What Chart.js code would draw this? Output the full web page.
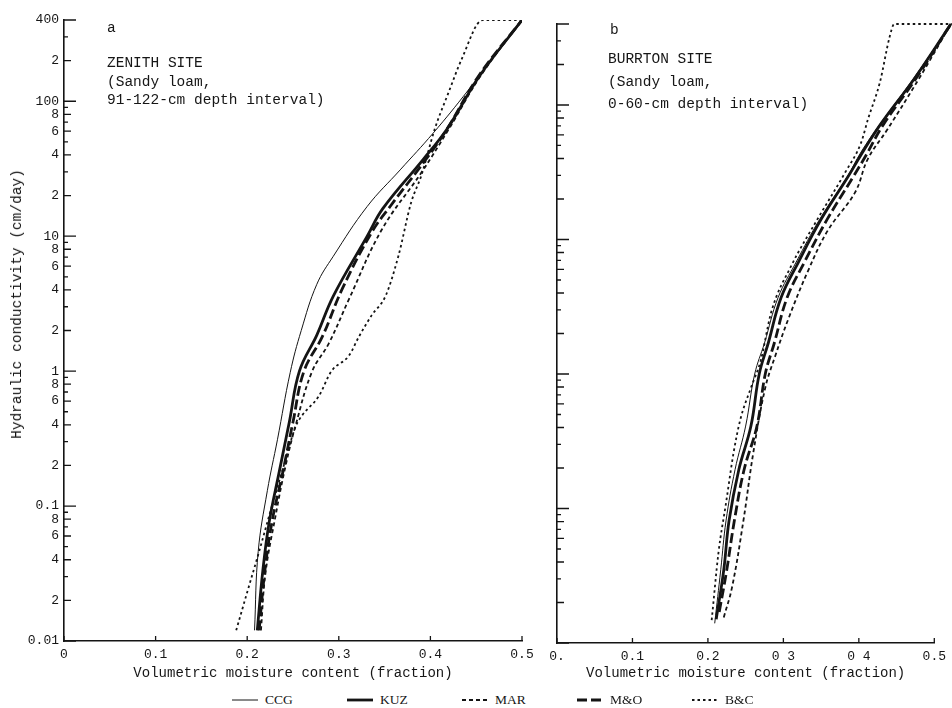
<!DOCTYPE html>
<html>
<head>
<meta charset="utf-8">
<script src="https://cdn.jsdelivr.net/npm/chart.js@4.4.0/dist/chart.umd.min.js"></script>
<style>
html,body{margin:0;padding:0;background:#fff;}
#wrap{position:relative;width:952px;height:708px;overflow:hidden;background:#fff;font-family:"Liberation Mono",monospace;color:#161616;}
#cA{position:absolute;left:0;top:0;}
#cB{position:absolute;left:540px;top:0;}
.note{position:absolute;font-size:14.5px;white-space:pre;}
#ytitle{position:absolute;left:17px;top:304px;transform:translate(-50%,-50%) rotate(-90deg);font-size:14.5px;white-space:nowrap;}
#legend{position:absolute;left:232px;top:692px;display:flex;height:16px;}
.li{width:115px;display:flex;align-items:center;font-family:"Liberation Serif",serif;font-size:13.5px;}
.li canvas{margin-right:7px;}
</style>
</head>
<body>
<div id="wrap">
  <canvas id="cA" width="545" height="690"></canvas>
  <canvas id="cB" width="412" height="690"></canvas>
  <div id="ytitle">Hydraulic conductivity (cm/day)</div>
  <div class="note" style="left:107px;top:19px;line-height:18px;">a</div>
  <div class="note" style="left:107px;top:54px;line-height:18.5px;">ZENITH SITE
(Sandy loam,
91-122-cm depth interval)</div>
  <div class="note" style="left:610px;top:21px;line-height:18px;">b</div>
  <div class="note" style="left:608px;top:48px;line-height:22.5px;">BURRTON SITE
(Sandy loam,
0-60-cm depth interval)</div>
  <div id="legend"></div>
</div>
<script>
// ---------- categories / series ----------
const seriesNames = ['CCG', 'KUZ', 'MAR', 'M&O', 'B&C'];

// ---------- tick values and labels ----------
const yTickValues = [0.01,0.02,0.03,0.04,0.05,0.06,0.07,0.08,0.09,
                     0.1,0.2,0.3,0.4,0.5,0.6,0.7,0.8,0.9,
                     1,2,3,4,5,6,7,8,9,
                     10,20,30,40,50,60,70,80,90,
                     100,200,300,400];
const yTickLabels = ['0.01','2','','4','','6','','8','',
                     '0.1','2','','4','','6','','8','',
                     '1','2','','4','','6','','8','',
                     '10','2','','4','','6','','8','',
                     '100','2','','400'];
const xTickValues = [0, 0.1, 0.2, 0.3, 0.4, 0.5];
const xTickLabelsA = ['0', '0.1', '0.2', '0.3', '0.4', '0.5'];
const xTickLabelsB = ['0.', '0.1', '0.2', '0 3', '0 4', '0.5'];
const xTitle = 'Volumetric moisture content (fraction)';

// ---------- panel a: Zenith site (theta, K cm/day) ----------
const zenithCCG_theta = [0.208,0.212,0.222,0.233,0.247,0.259,0.276,0.294,0.331,0.367,0.403,0.441,0.500];
const zenithCCG_K     = [0.012,0.046,0.13,0.31,0.98,2.0,4.4,7.1,16.6,31,58,120,400];

const zenithKUZ_theta = [0.211,0.217,0.224,0.235,0.246,0.257,0.276,0.294,0.331,0.348,0.392,0.418,0.454,0.500];
const zenithKUZ_K     = [0.012,0.033,0.076,0.18,0.42,1.0,1.85,3.6,10,16,37,62,155,400];

const zenithMAR_theta = [0.215,0.220,0.231,0.242,0.253,0.271,0.289,0.311,0.347,0.390,0.420,0.455,0.500];
const zenithMAR_K     = [0.012,0.032,0.085,0.20,0.40,1.0,1.6,3.4,11.2,29.5,62,155,400];

const zenithMO_theta  = [0.213,0.219,0.227,0.239,0.250,0.262,0.282,0.304,0.336,0.356,0.395,0.418,0.453,0.500];
const zenithMO_K      = [0.012,0.032,0.076,0.18,0.42,1.0,1.8,4.1,10.7,16.6,37,62,155,400];

const zenithBC_theta  = [0.188,0.200,0.213,0.227,0.238,0.253,0.260,0.278,0.292,0.311,0.322,0.336,0.351,0.365,0.379,0.390,0.405,0.420,0.434,0.457,0.500];
const zenithBC_K      = [0.012,0.023,0.046,0.10,0.18,0.39,0.47,0.65,1.0,1.3,1.8,2.6,3.6,7.1,17.8,28,63,117,204,400,400];

// ---------- panel b: Burrton site (theta, K cm/day) ----------
const burrtonCCG_theta = [0.209,0.217,0.224,0.236,0.250,0.262,0.275,0.293,0.317,0.348,0.385,0.403,0.428,0.474,0.522];
const burrtonCCG_K     = [0.014,0.035,0.081,0.195,0.41,1.0,1.7,3.7,6.8,14.1,29.5,44.7,72,162,400];

const burrtonKUZ_theta = [0.211,0.221,0.228,0.241,0.257,0.268,0.280,0.297,0.320,0.350,0.386,0.403,0.428,0.474,0.522];
const burrtonKUZ_K     = [0.015,0.035,0.081,0.195,0.41,1.0,1.7,3.7,6.8,14.1,29.5,42.7,70.8,158,400];

const burrtonMAR_theta = [0.221,0.232,0.247,0.260,0.276,0.289,0.307,0.333,0.359,0.395,0.412,0.438,0.480,0.522];
const burrtonMAR_K     = [0.0155,0.026,0.081,0.257,0.79,1.35,2.6,5.9,11.7,22.4,39.8,66,158,400];

const burrtonMO_theta  = [0.215,0.225,0.235,0.248,0.265,0.276,0.288,0.305,0.328,0.358,0.393,0.410,0.432,0.476,0.522];
const burrtonMO_K      = [0.017,0.035,0.081,0.195,0.41,1.0,1.7,3.7,6.8,14.1,29.5,42.7,70.8,158,400];

const burrtonBC_theta  = [0.205,0.214,0.224,0.234,0.243,0.257,0.270,0.284,0.310,0.345,0.382,0.403,0.412,0.428,0.441,0.447,0.530];
const burrtonBC_K      = [0.0148,0.047,0.11,0.26,0.46,0.79,1.26,2.9,6.3,14.1,31.6,52.5,78,148,324,400,400];

// ---------- styles (kept apart from data) ----------
const lineStyle = {
  'CCG': {width: 1.0, dash: [], smooth: 'spline'},
  'KUZ': {width: 2.8, dash: [], smooth: 'spline'},
  'MAR': {width: 1.8, dash: [4, 3], smooth: 'spline'},
  'M&O': {width: 2.8, dash: [10, 4], smooth: 'spline'},
  'B&C': {width: 1.8, dash: [2.5, 3], smooth: 'monotone'}
};
const ink = '#141414';

const zenithSeries = [
  [zenithCCG_theta, zenithCCG_K], [zenithKUZ_theta, zenithKUZ_K], [zenithMAR_theta, zenithMAR_K],
  [zenithMO_theta, zenithMO_K], [zenithBC_theta, zenithBC_K]
];
const burrtonSeries = [
  [burrtonCCG_theta, burrtonCCG_K], [burrtonKUZ_theta, burrtonKUZ_K], [burrtonMAR_theta, burrtonMAR_K],
  [burrtonMO_theta, burrtonMO_K], [burrtonBC_theta, burrtonBC_K]
];

function makeDatasets(series, noClip) {
  return series.map(([th, k], i) => {
    const st = lineStyle[seriesNames[i]];
    const ds = {
      label: seriesNames[i],
      data: th.map((t, j) => ({x: t, y: k[j]})),
      borderColor: ink,
      borderWidth: st.width,
      borderDash: st.dash,
      pointRadius: 0,
      fill: false
    };
    if (st.smooth === 'monotone') ds.cubicInterpolationMode = 'monotone';
    else ds.tension = 0.4;
    if (noClip) ds.clip = false;
    return ds;
  });
}

Chart.defaults.font.family = "'Liberation Mono', monospace";
Chart.defaults.color = '#161616';

const yMax = yTickValues[yTickValues.length - 1];

const inwardTicks = {
  id: 'inwardTicks',
  afterDraw(chart) {
    const {ctx, chartArea: a, scales: {x, y}} = chart;
    ctx.save();
    ctx.strokeStyle = ink;
    ctx.lineWidth = 1.3;
    ctx.beginPath();
    yTickValues.forEach(v => {
      const py = y.getPixelForValue(v);
      const m = Math.round(v / Math.pow(10, Math.floor(Math.log10(v) + 1e-9)));
      const len = (m === 1 || v === yMax) ? 12 : (m % 2 === 0 ? 7 : 4);
      ctx.moveTo(a.left, py);
      ctx.lineTo(a.left + len, py);
    });
    xTickValues.forEach(v => {
      const px = x.getPixelForValue(v);
      ctx.moveTo(px, a.bottom);
      ctx.lineTo(px, a.bottom - 5);
    });
    ctx.stroke();
    ctx.restore();
  }
};

function makeOptions(cfg) {
  return {
    responsive: false,
    animation: false,
    layout: {padding: cfg.padding},
    plugins: {legend: {display: false}, tooltip: {enabled: false}},
    scales: {
      x: {
        type: 'linear',
        min: 0, max: 0.5,
        afterBuildTicks: s => { s.ticks = xTickValues.map(v => ({value: v})); },
        afterFit: s => { s.height = cfg.xHeight; },
        grid: {display: false, drawTicks: false},
        border: {display: true, color: ink, width: 1.6},
        ticks: {autoSkip: false, maxRotation: 0, padding: 6, font: {size: 13}, color: '#161616',
                callback: (v, i) => cfg.xLabels[i]},
        title: {display: true, text: xTitle, font: {size: 14}, color: '#161616', padding: {top: 2, bottom: 8}}
      },
      y: {
        type: 'logarithmic',
        min: 0.01, max: yMax,
        afterBuildTicks: s => { s.ticks = yTickValues.map(v => ({value: v})); },
        afterFit: s => { s.width = cfg.yWidth; },
        grid: {display: false, drawTicks: false},
        border: {display: true, color: ink, width: 1.6},
        ticks: {display: cfg.yLabels, autoSkip: false, padding: 5, font: {size: 13}, color: '#161616',
                callback: (v, i) => yTickLabels[i]}
      }
    }
  };
}

new Chart(document.getElementById('cA'), {
  type: 'line',
  data: {datasets: makeDatasets(zenithSeries, false)},
  options: makeOptions({padding: {top: 20, right: 23, left: 0, bottom: 0}, xHeight: 49, yWidth: 64, xLabels: xTickLabelsA, yLabels: true}),
  plugins: [inwardTicks]
});

new Chart(document.getElementById('cB'), {
  type: 'line',
  data: {datasets: makeDatasets(burrtonSeries, true)},
  options: makeOptions({padding: {top: 24, right: 15, left: 0, bottom: 0}, xHeight: 47, yWidth: 17, xLabels: xTickLabelsB, yLabels: false}),
  plugins: [inwardTicks]
});

// ---------- legend ----------
const legendEl = document.getElementById('legend');
seriesNames.forEach(name => {
  const st = lineStyle[name];
  const item = document.createElement('div');
  item.className = 'li';
  const c = document.createElement('canvas');
  c.width = 26; c.height = 10;
  const g = c.getContext('2d');
  g.strokeStyle = ink; g.lineWidth = st.width; g.setLineDash(st.dash);
  g.beginPath(); g.moveTo(0, 5); g.lineTo(26, 5); g.stroke();
  item.appendChild(c);
  const t = document.createElement('span');
  t.textContent = name;
  item.appendChild(t);
  legendEl.appendChild(item);
});
</script>
</body>
</html>
